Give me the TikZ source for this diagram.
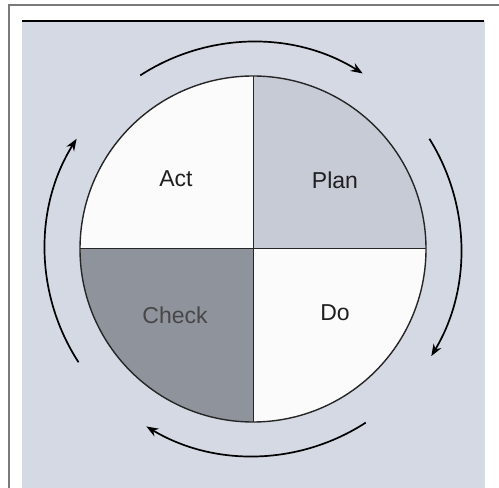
\documentclass[tikz,border=0pt]{standalone}
\usepackage{fontspec}
\setmainfont{Liberation Sans}
\usetikzlibrary{arrows.meta}
\definecolor{bgc}{HTML}{D4D9E4}
\definecolor{planc}{HTML}{C6CBD5}
\definecolor{checkc}{HTML}{8E939C}
\definecolor{whc}{HTML}{FBFBFB}
\definecolor{framec}{HTML}{7A7A7A}
\tikzset{
  cyc/.style={line width=1.7pt, -{Stealth[length=12pt,width=9pt]}},
  lbl/.style={font=\fontsize{23}{25}\selectfont, text=black!88},
  divline/.style={line width=1pt, black!85}
}
\begin{document}
\begin{tikzpicture}[x=1pt,y=1pt]
\useasboundingbox (0,0) rectangle (499,488);
\fill[white] (0,0) rectangle (499,488);
% frame
\draw[framec, line width=1.6pt] (9,0) -- (9,483) -- (499,483);
\fill[bgc] (22,0) rectangle (485,467);
\draw[black, line width=1.3pt] (22,467) -- (484,467);
% circle
\coordinate (c) at (253,239);
\fill[whc] (c) circle[radius=173pt];
\fill[planc] (c) -- ++(0:173pt) arc[start angle=0,end angle=90,radius=173pt] -- cycle;
\fill[checkc] (c) -- ++(180:173pt) arc[start angle=180,end angle=270,radius=173pt] -- cycle;
\draw[divline] ([yshift=173pt]c) -- ([yshift=-173pt]c);
\draw[divline] ([xshift=-173pt]c) -- ([xshift=173pt]c);
\draw[line width=1.4pt, black!85] (c) circle[radius=173pt];
% labels
\node[lbl] (act) at (176,309) {Act};
\node[lbl] (plan) at (335,308) {Plan};
\node[lbl, text=black!72] (check) at (175,173) {Check};
\node[lbl] (do) at (335,175) {Do};
% cycle arrows
\draw[cyc] ([shift={(123:207pt)}]c) arc[start angle=123,end angle=58,radius=207pt];
\draw[cyc] ([shift={(32:208pt)}]c) arc[start angle=32,end angle=-31,radius=208pt];
\draw[cyc] ([shift={(-57:207pt)}]c) arc[start angle=-57,end angle=-121,radius=207pt];
\draw[cyc] ([shift={(213:208pt)}]c) arc[start angle=213,end angle=148,radius=208pt];
\end{tikzpicture}
\end{document}
